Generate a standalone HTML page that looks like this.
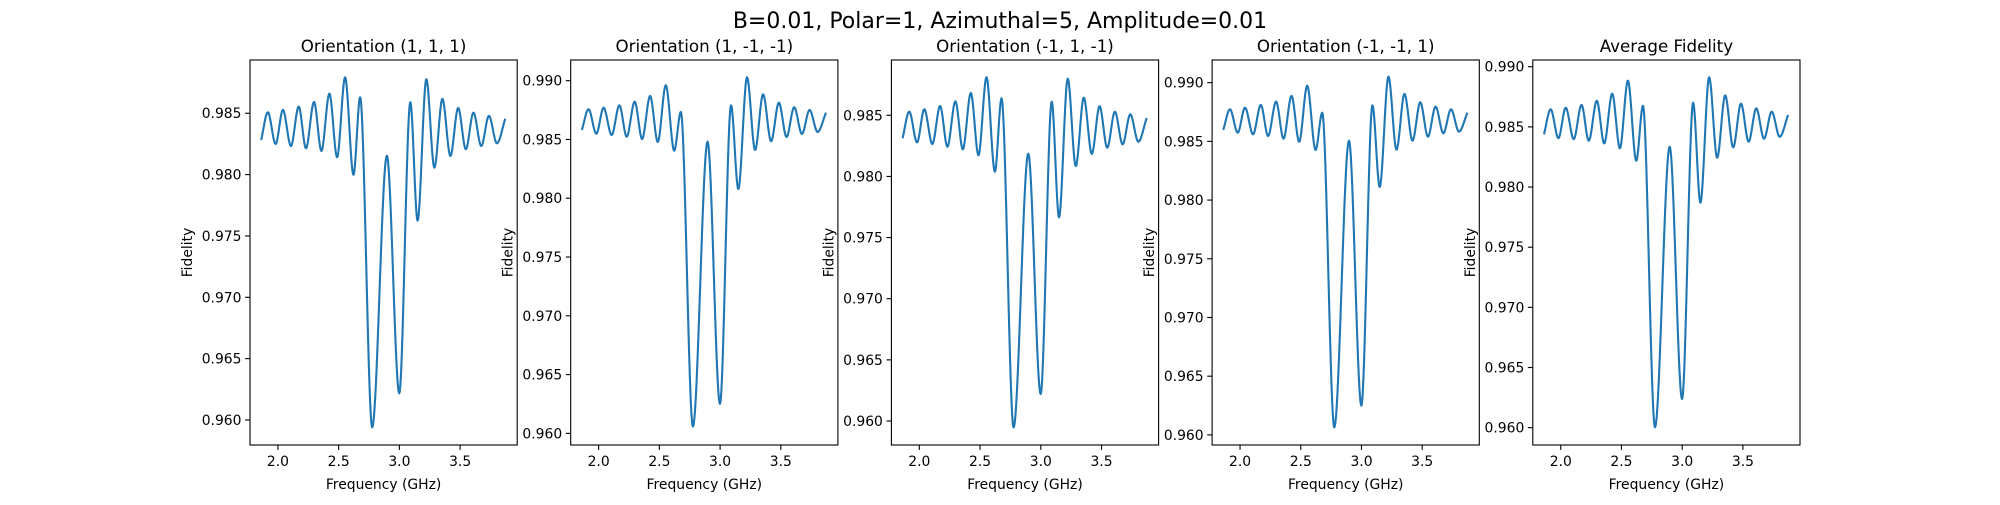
<!DOCTYPE html>
<html><head><meta charset="utf-8"><style>
html,body{margin:0;padding:0;background:#fff;}
svg text{font-family:"DejaVu Sans","Liberation Sans",sans-serif;fill:#000;}
</style></head><body>
<svg id="fig" width="2000" height="500" viewBox="0 0 2000 500">
<text x="1000" y="28" font-size="22" text-anchor="middle">B=0.01, Polar=1, Azimuthal=5, Amplitude=0.01</text>
</svg>
<script>
const freq=[1.862,1.917,1.981,2.041,2.107,2.171,2.231,2.297,2.358,2.424,2.487,2.553,2.622,2.677,2.776,2.897,2.999,3.090,3.150,3.222,3.288,3.354,3.420,3.484,3.547,3.610,3.674,3.737,3.803,3.872];
const fid1=[0.98282,0.98508,0.98250,0.98527,0.98233,0.98554,0.98215,0.98592,0.98193,0.98660,0.98141,0.98793,0.97999,0.98630,0.95940,0.98154,0.96217,0.98590,0.97625,0.98777,0.98057,0.98617,0.98152,0.98543,0.98207,0.98505,0.98233,0.98478,0.98255,0.98456];
const fid2=[0.98581,0.98757,0.98549,0.98770,0.98538,0.98790,0.98524,0.98821,0.98504,0.98870,0.98479,0.98961,0.98405,0.98734,0.96058,0.98481,0.96251,0.98790,0.98079,0.99029,0.98411,0.98884,0.98485,0.98813,0.98521,0.98774,0.98547,0.98751,0.98564,0.98728];
const fid3=[0.98312,0.98529,0.98279,0.98549,0.98265,0.98576,0.98243,0.98614,0.98222,0.98682,0.98173,0.98811,0.98039,0.98639,0.95948,0.98186,0.96221,0.98611,0.97666,0.98799,0.98085,0.98644,0.98184,0.98574,0.98235,0.98529,0.98263,0.98508,0.98284,0.98478];
const fid4=[0.98597,0.98773,0.98574,0.98787,0.98560,0.98810,0.98546,0.98838,0.98523,0.98887,0.98497,0.98974,0.98427,0.98744,0.96065,0.98506,0.96249,0.98807,0.98112,0.99051,0.98429,0.98904,0.98506,0.98833,0.98540,0.98796,0.98569,0.98773,0.98583,0.98744];
const fid5=[0.98438,0.98646,0.98407,0.98659,0.98399,0.98682,0.98385,0.98717,0.98363,0.98776,0.98322,0.98884,0.98219,0.98676,0.96003,0.98335,0.96238,0.98701,0.97870,0.98912,0.98244,0.98762,0.98330,0.98693,0.98377,0.98654,0.98402,0.98626,0.98418,0.98599];
const titles=["Orientation (1, 1, 1)","Orientation (1, -1, -1)","Orientation (-1, 1, -1)","Orientation (-1, -1, 1)","Average Fidelity"];
const xTicks=[2.0,2.5,3.0,3.5];
const xTickLabels=["2.0","2.5","3.0","3.5"];
const yTicksA=[0.960,0.965,0.970,0.975,0.980,0.985];
const yTicksB=[0.960,0.965,0.970,0.975,0.980,0.985,0.990];
const series=[fid1,fid2,fid3,fid4,fid5];

const NS="http://www.w3.org/2000/svg";
const svg=document.getElementById('fig');
function mk(tag,attrs,parent){const e=document.createElementNS(NS,tag);for(const k in attrs)e.setAttribute(k,attrs[k]);(parent||svg).appendChild(e);return e;}
const axLefts=[250,570.7,891.4,1212.1,1532.8], axW=267.2, axTop=60, axBot=445;
const xlim=[1.77,3.97];
const ylims=[[0.95796,0.98934],[0.95901,0.99176],[0.95804,0.98952],[0.95914,0.99193],[0.95856,0.99056]];
const yTicksFor=[yTicksA,yTicksB,yTicksA,yTicksB,yTicksB];

function monotone(xs,ys){
  const n=xs.length,d=[],m=[];
  for(let i=0;i<n-1;i++)d.push((ys[i+1]-ys[i])/(xs[i+1]-xs[i]));
  m[0]=d[0];m[n-1]=d[n-2];
  for(let i=1;i<n-1;i++){ if(d[i-1]*d[i]<=0)m[i]=0; else { const w1=2*(xs[i+1]-xs[i])+(xs[i]-xs[i-1]), w2=(xs[i+1]-xs[i])+2*(xs[i]-xs[i-1]); m[i]=(w1+w2)/(w1/d[i-1]+w2/d[i]); } }
  const out=[];
  for(let i=0;i<n-1;i++){const h=xs[i+1]-xs[i];for(let k=0;k<24;k++){const t=k/24,t2=t*t,t3=t2*t;
    out.push([xs[i]+t*h,(2*t3-3*t2+1)*ys[i]+(t3-2*t2+t)*h*m[i]+(-2*t3+3*t2)*ys[i+1]+(t3-t2)*h*m[i+1]]);}}
  out.push([xs[n-1],ys[n-1]]);return out;
}

for(let p=0;p<5;p++){
  const L=axLefts[p],R=L+axW,yl=ylims[p];
  const g=mk('g',{});
  
  
  const sx=v=>L+(v-xlim[0])/(xlim[1]-xlim[0])*axW;
  const sy=v=>axBot-(v-yl[0])/(yl[1]-yl[0])*(axBot-axTop);
  const pts=monotone(freq,series[p]);
  const path=mk('path',{d:pts.map((q,i)=>(i?'L':'M')+sx(q[0]).toFixed(2)+' '+sy(q[1]).toFixed(2)).join(''),fill:'none',stroke:'#1f77b4','stroke-width':2.1,'stroke-linejoin':'round'},g);
  
  
  const frame=mk('rect',{x:L,y:axTop,width:axW,height:axBot-axTop,fill:'none',stroke:'#000','stroke-width':1.1},g);
  
  
  xTicks.forEach((t,i)=>{const x=sx(t);
    mk('line',{x1:x,x2:x,y1:axBot,y2:axBot+4.9,stroke:'#000','stroke-width':1.1},g);
    const tx=mk('text',{x:x,y:axBot+21,'font-size':13.9,'text-anchor':'middle'},g);tx.textContent=xTickLabels[i];
    
    });
  yTicksFor[p].forEach(t=>{const y=sy(t);
    mk('line',{x1:L-4.9,x2:L,y1:y,y2:y,stroke:'#000','stroke-width':1.1},g);
    const tx=mk('text',{x:L-8.5,y:y+5,'font-size':13.9,'text-anchor':'end'},g);tx.textContent=t.toFixed(3);
    
    });
  const tt=mk('text',{x:L+axW/2,y:52,'font-size':16.7,'text-anchor':'middle'},g);tt.textContent=titles[p];
  
  
  const xl=mk('text',{x:L+axW/2,y:489,'font-size':13.9,'text-anchor':'middle'},g);xl.textContent='Frequency (GHz)';
  
  
  const yx=L-58,yy=(axTop+axBot)/2;
  const ylb=mk('text',{x:yx,y:yy,'font-size':13.9,'text-anchor':'middle',transform:'rotate(-90 '+yx+' '+yy+')'},g);ylb.textContent='Fidelity';
  
  
}
</script>
</body></html>
